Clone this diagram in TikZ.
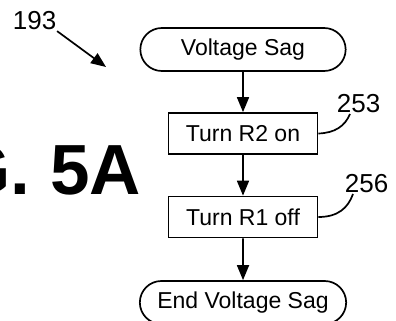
\documentclass[tikz,border=0pt]{standalone}
\usepackage{fontspec}
\setmainfont{Liberation Sans}
\usetikzlibrary{shapes.misc,arrows.meta}

\begin{document}
\begin{tikzpicture}[x=1pt,y=-1pt,line width=1.7pt,
    >={Triangle[length=15pt,width=12pt]},
    term/.style={draw,rounded rectangle,minimum width=212pt,minimum height=43pt,
        font=\fontsize{23}{23}\selectfont},
    stepbox/.style={draw,rectangle,minimum width=149pt,minimum height=41pt,
        font=\fontsize{23}{23}\selectfont},
    refnum/.style={inner sep=0pt,font=\fontsize{26}{26}\selectfont}]
    \useasboundingbox (0,0) rectangle (396,321);

    % Figure title, cut off at the left edge
    \node[anchor=base east,inner sep=0pt,font=\fontsize{71}{71}\selectfont\bfseries] (title) at (142,194) {G. 5A};

    % Flow chart
    \node[term] (sag) at (243,49.5) {Voltage Sag};
    \node[stepbox] (r2on) at (243,133.5) {Turn R2 on};
    \node[stepbox] (r1off) at (243,217) {Turn R1 off};
    \node[term,minimum width=213pt] (endsag) at (243,302.5) {End Voltage Sag};

    \draw[->] (sag) -- (r2on);
    \draw[->] (r2on) -- (r1off);
    \draw[->] (r1off) -- (endsag);

    % Reference numerals
    \node[refnum,anchor=base west] (l193) at (12,30) {193};
    \node[refnum,anchor=base west] (l253) at (336,112) {253};
    \node[refnum,anchor=base west] (l256) at (344,192) {256};
    \coordinate (p193) at (106,67);
    \coordinate (p253) at (350,114);
    \coordinate (p256) at (353,194);

    \draw[->] (l193.south east) -- (p193);
    \draw (r2on.east) .. controls (335,133) and (345,126) .. (p253);
    \draw (r1off.east) .. controls (338,217) and (348,208) .. (p256);
\end{tikzpicture}
\end{document}
